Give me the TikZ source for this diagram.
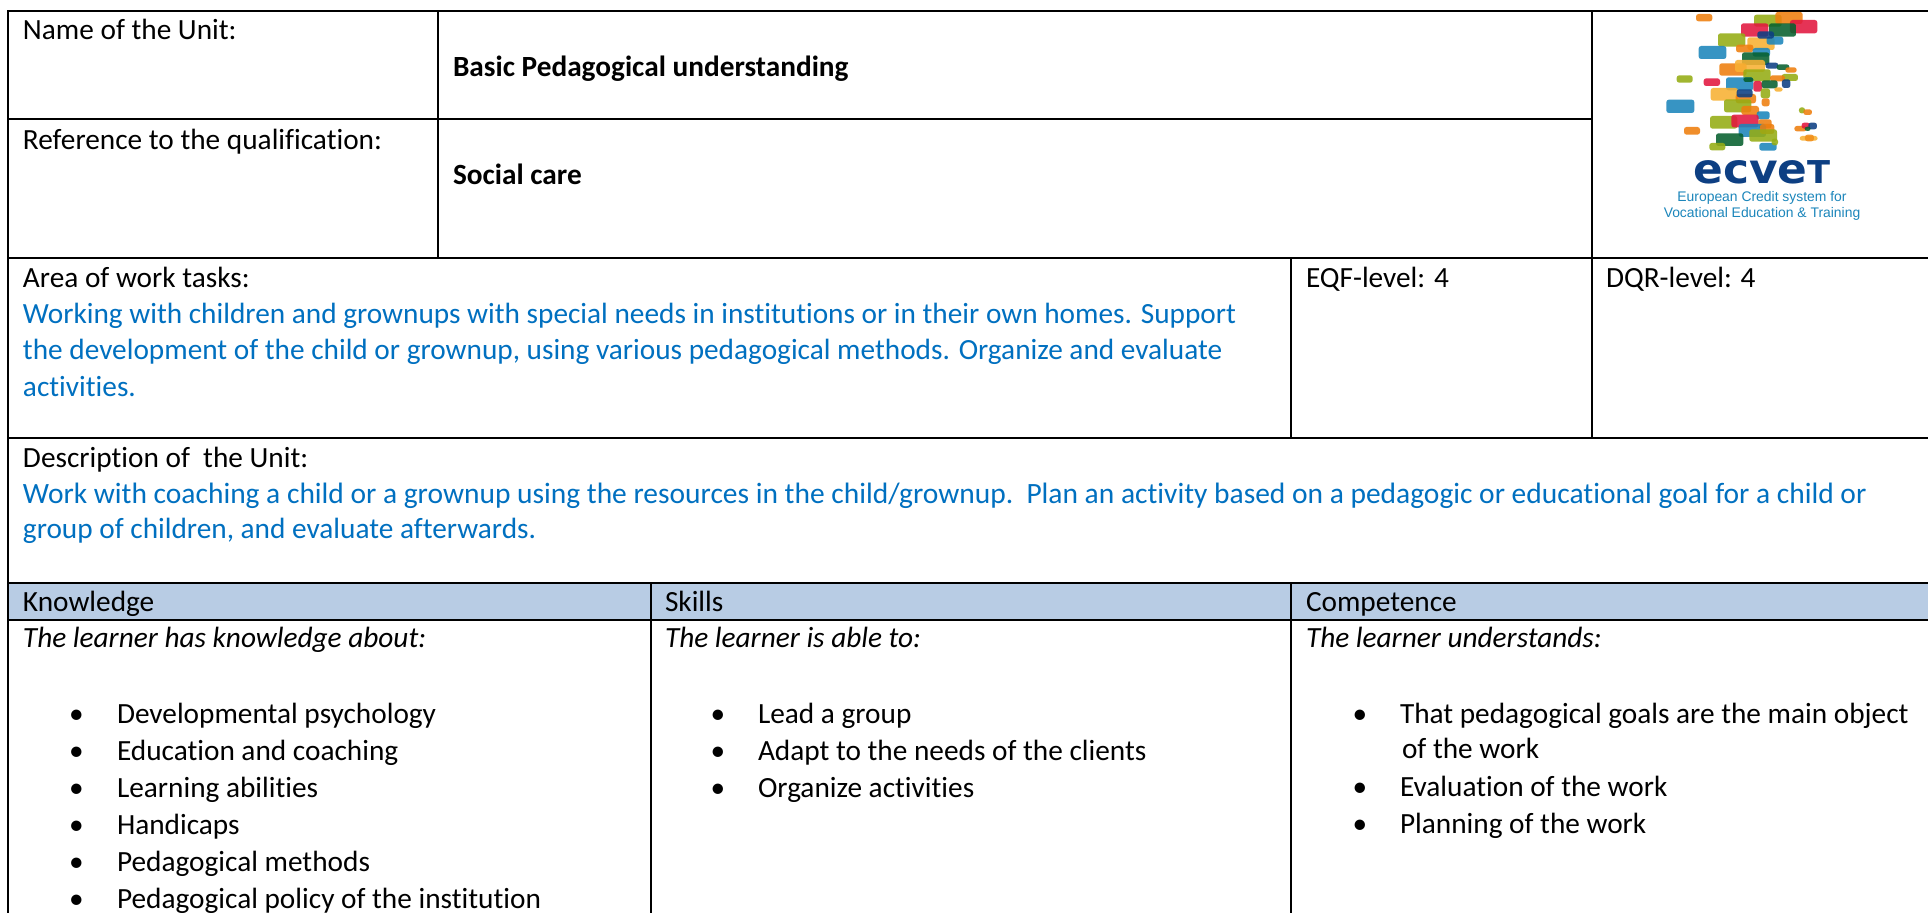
\documentclass[tikz,border=0pt]{standalone}
\usepackage{fontspec}
\setmainfont{Carlito}[Ligatures=NoCommon]
\newfontfamily\logofont{Liberation Sans}
\newfontfamily\markfont{DejaVu Sans}[FakeStretch=1.07]
\definecolor{bluetext}{HTML}{0070C0}
\definecolor{headfill}{HTML}{B8CCE4}
\definecolor{lgorange}{HTML}{EE7F0E}
\definecolor{lgolive}{HTML}{95AD14}
\definecolor{lgred}{HTML}{E2173F}
\definecolor{lggreen}{HTML}{07602F}
\definecolor{lgnavy}{HTML}{0D3F83}
\definecolor{lgblue}{HTML}{1C86BB}
\definecolor{lgyellow}{HTML}{F8B133}
\tikzset{
  rule/.style={line width=2pt,black},
  txt/.style={anchor=base west,inner sep=0pt,outer sep=0pt,font=\fontsize{29.3}{35}\selectfont,text=black},
  bluetxt/.style={txt,text=bluetext},
  boldtxt/.style={txt,font=\fontsize{29.3}{35}\selectfont\bfseries},
  itxt/.style={txt,font=\fontsize{29.3}{35}\selectfont\itshape},
  bul/.style={anchor=base,inner sep=0pt,outer sep=0pt,font=\fontsize{29.3}{35}\selectfont,text=black},
}
\newcommand{\lgbar}[5]{\fill[#1,fill opacity=.88,rounded corners=2.5] (#2,#3) rectangle (#4,#5);}
\begin{document}
\begin{tikzpicture}[x=1pt,y=-1pt]
\useasboundingbox (0,0) rectangle (1928,913);
\fill[white] (0,0) rectangle (1928,913);
% header band
\fill[headfill] (8,583) rectangle (1928,619);
% rules
\draw[rule] (8,11) -- (1928,11);
\draw[rule] (8,118.5) -- (1592,118.5);
\draw[rule] (8,257.5) -- (1928,257.5);
\draw[rule] (8,438) -- (1928,438);
\draw[rule] (8,583) -- (1928,583);
\draw[rule] (8,619.5) -- (1928,619.5);
\draw[rule] (8,10) -- (8,913);
\draw[rule] (438,11) -- (438,257.5);
\draw[rule] (1592,11) -- (1592,438);
\draw[rule] (1291,257.5) -- (1291,438);
\draw[rule] (651,583) -- (651,913);
\draw[rule] (1291,583) -- (1291,913);
% logo
\begin{scope}[shift={(1590,0)},x=0.3333pt,y=-0.3333pt]
\lgbar{lgorange}{318}{42}{367}{64}
\lgbar{lgolive}{492}{44}{575}{80}
\lgbar{lgorange}{556}{36}{638}{72}
\lgbar{lgred}{453}{70}{535}{110}
\lgbar{lgred}{600}{60}{682}{100}
\lgbar{lggreen}{537}{70}{618}{110}
\lgbar{lgolive}{384}{100}{466}{140}
\lgbar{lgyellow}{472}{112}{554}{150}
\lgbar{lgblue}{530}{110}{580}{134}
\lgbar{lgnavy}{502}{94}{552}{116}
\lgbar{lgblue}{326}{138}{409}{177}
\lgbar{lgorange}{438}{134}{490}{157}
\lgbar{lgblue}{488}{144}{540}{170}
\lgbar{lggreen}{456}{157}{538}{195}
\lgbar{lgorange}{388}{190}{470}{227}
\lgbar{lgyellow}{435}{180}{525}{216}
\lgbar{lgnavy}{527}{188}{565}{206}
\lgbar{lggreen}{560}{193}{598}{210}
\lgbar{lgorange}{586}{202}{620}{218}
\lgbar{lgolive}{460}{208}{542}{244}
\lgbar{lgolive}{575}{222}{624}{243}
\lgbar{lgorange}{540}{226}{585}{244}
\lgbar{lgolive}{260}{226}{308}{248}
\lgbar{lgred}{341}{235}{390}{258}
\lgbar{lgblue}{408}{232}{490}{271}
\lgbar{lggreen}{460}{232}{490}{246}
\lgbar{lgred}{490}{243}{516}{275}
\lgbar{lggreen}{515}{241}{563}{265}
\lgbar{lgnavy}{576}{238}{601}{264}
\lgbar{lgyellow}{553}{262}{578}{275}
\lgbar{lgyellow}{362}{264}{444}{302}
\lgbar{lgorange}{437}{282}{498}{310}
\lgbar{lgnavy}{440}{268}{488}{292}
\lgbar{lgolive}{512}{265}{540}{295}
\lgbar{lgorange}{515}{295}{539}{319}
\lgbar{lgblue}{229}{299}{313}{339}
\lgbar{lgolive}{402}{298}{484}{337}
\lgbar{lgorange}{454}{318}{507}{345}
\lgbar{lgblue}{500}{334}{539}{358}
\lgbar{lgolive}{627}{322}{645}{340}
\lgbar{lgorange}{640}{328}{666}{345}
\lgbar{lgolive}{360}{348}{442}{386}
\lgbar{lgred}{424}{344}{506}{382}
\lgbar{lgorange}{505}{358}{545}{385}
\lgbar{lgblue}{446}{372}{528}{411}
\lgbar{lgorange}{510}{372}{553}{402}
\lgbar{lgolive}{478}{388}{561}{425}
\lgbar{lgorange}{282}{381}{330}{404}
\lgbar{lgorange}{613}{378}{650}{394}
\lgbar{lgred}{635}{368}{660}{386}
\lgbar{lgnavy}{655}{368}{681}{388}
\lgbar{lggreen}{644}{380}{662}{393}
\lgbar{lgyellow}{629}{408}{683}{422}
\lgbar{lgorange!70!lgyellow}{645}{404}{672}{424}
\lgbar{lggreen}{378}{400}{460}{438}
\lgbar{lgolive}{358}{429}{406}{451}
\lgbar{lgblue}{508}{429}{560}{452}
\lgbar{lgolive}{545}{416}{564}{436}
\end{scope}
\node[anchor=base,inner sep=0pt,text=lgnavy,font=\markfont\bfseries\fontsize{41}{41}\selectfont] (lgmark) at (1762,183.5) {ecve\fontsize{31.5}{32}\selectfont T};
\node[anchor=base,inner sep=0pt,text=lgblue,font=\logofont\fontsize{13.9}{16}\selectfont] (lgone) at (1762,201.5) {European Credit system for};
\node[anchor=base,inner sep=0pt,text=lgblue,font=\logofont\fontsize{13.9}{16}\selectfont] (lgtwo) at (1762,217.5) {Vocational Education \& Training};
% top rows
\node[txt] (name) at (23,39) {Name of the Unit:};
\node[txt] (ref) at (23,149) {Reference to the qualification:};
\node[boldtxt] (basic) at (453,76) {Basic Pedagogical understanding};
\node[boldtxt] (social) at (453,184) {Social care};
% area
\node[txt] (area) at (23,287) {Area of work tasks:};
\node[bluetxt] (a1) at (23,323) {Working with children and grownups with special needs in institutions or in their own homes. Support};
\node[bluetxt] (a2) at (23,359) {the development of the child or grownup, using various pedagogical methods. Organize and evaluate};
\node[bluetxt] (a3) at (23,396) {activities.};
\node[txt] (eqf) at (1306,287) {EQF-level: 4};
\node[txt] (dqr) at (1606,287) {DQR-level: 4};
% description
\node[txt] (desc) at (23,467) {Description of\ \ the Unit:};
\node[bluetxt,font=\fontsize{29.47}{35}\selectfont] (d1) at (23,503) {Work with coaching a child or a grownup using the resources in the child/grownup.\ \ Plan an activity based on a pedagogic or educational goal for a child or};
\node[bluetxt] (d2) at (23,538) {group of children, and evaluate afterwards.};
% headers
\node[txt] (hk) at (23,611) {Knowledge};
\node[txt] (hs) at (665,611) {Skills};
\node[txt] (hc) at (1306,611) {Competence};
% knowledge
\node[itxt] (kt) at (23,647) {The learner has knowledge about:};
\node[bul] (kb1) at (76.5,723) {•}; \node[txt] (k1) at (117,723) {Developmental psychology};
\node[bul] (kb2) at (76.5,760) {•}; \node[txt] (k2) at (117,760) {Education and coaching};
\node[bul] (kb3) at (76.5,797) {•}; \node[txt] (k3) at (117,797) {Learning abilities};
\node[bul] (kb4) at (76.5,834) {•}; \node[txt] (k4) at (117,834) {Handicaps};
\node[bul] (kb5) at (76.5,871) {•}; \node[txt] (k5) at (117,871) {Pedagogical methods};
\node[bul] (kb6) at (76.5,908) {•}; \node[txt] (k6) at (117,908) {Pedagogical policy of the institution};
% skills
\node[itxt] (st) at (665,647) {The learner is able to:};
\node[bul] (sb1) at (718,723) {•}; \node[txt] (s1) at (758,723) {Lead a group};
\node[bul] (sb2) at (718,760) {•}; \node[txt] (s2) at (758,760) {Adapt to the needs of the clients};
\node[bul] (sb3) at (718,797) {•}; \node[txt] (s3) at (758,797) {Organize activities};
% competence
\node[itxt] (ct) at (1306,647) {The learner understands:};
\node[bul] (cb1) at (1360,723) {•}; \node[txt] (c1) at (1400,723) {That pedagogical goals are the main object};
\node[txt] (c1b) at (1402,758) {of the work};
\node[bul] (cb2) at (1360,796) {•}; \node[txt] (c2) at (1400,796) {Evaluation of the work};
\node[bul] (cb3) at (1360,833) {•}; \node[txt] (c3) at (1400,833) {Planning of the work};
\end{tikzpicture}
\end{document}
